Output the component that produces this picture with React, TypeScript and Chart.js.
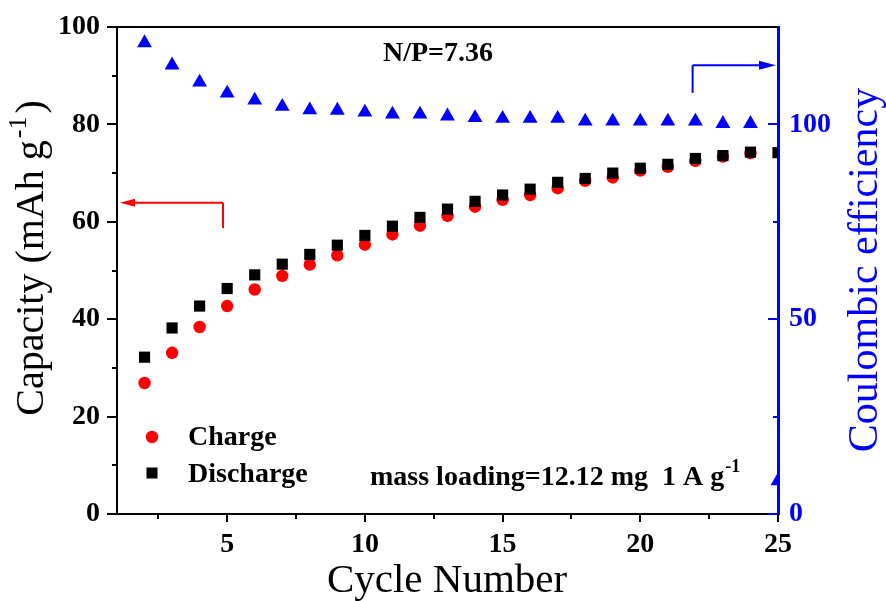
import React, { useEffect, useRef } from "react";
import { Chart, registerables } from "chart.js";

Chart.register(...registerables);

// ---- data ----
const cycles = [2, 3, 4, 5, 6, 7, 8, 9, 10, 11, 12, 13, 14, 15, 16, 17, 18, 19, 20, 21, 22, 23, 24, 25];
const chargeCapacity = [26.9, 33.1, 38.4, 42.7, 46.1, 48.9, 51.2, 53.1, 55.3, 57.4, 59.2, 61.2, 63.1, 64.5, 65.5, 66.9, 68.4, 69.1, 70.5, 71.3, 72.5, 73.4, 74.1, null];
const dischargeCapacity = [32.2, 38.2, 42.7, 46.3, 49.1, 51.3, 53.3, 55.2, 57.2, 59.1, 60.9, 62.6, 64.2, 65.5, 66.7, 68.1, 68.9, 70.0, 71.0, 71.8, 73.0, 73.6, 74.3, 74.2];
const coulombicEfficiency = [120.9, 115.2, 110.8, 108.0, 106.2, 104.6, 103.7, 103.6, 103.1, 102.6, 102.6, 102.1, 101.7, 101.5, 101.5, 101.5, 100.8, 100.8, 100.8, 100.8, 100.8, 100.2, 100.2, 8.5];

const xTicks = [5, 10, 15, 20, 25];
const xMinorTicks = [2.5, 7.5, 12.5, 17.5, 22.5];
const yTicks = [0, 20, 40, 60, 80, 100];
const yMinorTicks = [10, 30, 50, 70, 90];
const y1Ticks = [0, 50, 100];
const y1MinorTicks = [25, 75];

const xTitle = "Cycle Number";
const yTitleMain = "Capacity (mAh g";
const yTitleSup = "-1";
const y1Title = "Coulombic efficiency";
const npText = "N/P=7.36";
const massText = "mass loading=12.12 mg  1 A g";
const massSup = "-1";

const SERIF = '"Liberation Serif", "Times New Roman", serif';
const BLUE = "#0000ff";
const RED = "#ff0000";

const decor = {
  id: "decor",
  afterDraw(chart: any) {
    const { ctx, chartArea: a, scales } = chart;
    const sx = scales.x, sy = scales.y, sy1 = scales.y1;
    ctx.save();

    // top frame line
    ctx.strokeStyle = "#000";
    ctx.lineWidth = 2;
    ctx.beginPath();
    ctx.moveTo(a.left - 1, a.top);
    ctx.lineTo(a.right, a.top);
    ctx.stroke();

    const seg = (x1: number, y1: number, x2: number, y2: number, color: string, w: number) => {
      ctx.strokeStyle = color;
      ctx.lineWidth = w;
      ctx.beginPath();
      ctx.moveTo(x1, y1);
      ctx.lineTo(x2, y2);
      ctx.stroke();
    };

    // x ticks (outward)
    xTicks.forEach((v) => { const p = Math.round(sx.getPixelForValue(v)); seg(p, a.bottom, p, a.bottom + 8, "#000", 2); });
    xMinorTicks.forEach((v) => { const p = Math.round(sx.getPixelForValue(v)); seg(p, a.bottom, p, a.bottom + 5, "#000", 2); });
    // left y ticks (outward)
    yTicks.forEach((v) => { const p = Math.round(sy.getPixelForValue(v)); seg(a.left, p, a.left - 10, p, "#000", 2); });
    yMinorTicks.forEach((v) => { const p = Math.round(sy.getPixelForValue(v)); seg(a.left, p, a.left - 5, p, "#000", 2); });
    // right y ticks (inward)
    y1Ticks.forEach((v) => { const p = Math.round(sy1.getPixelForValue(v)); seg(a.right, p, a.right - 10, p, BLUE, 2); });
    y1MinorTicks.forEach((v) => { const p = Math.round(sy1.getPixelForValue(v)); seg(a.right, p, a.right - 5, p, BLUE, 2); });

    // red arrow -> left axis
    const rx = sx.getPixelForValue(4.85);
    const ry = sy.getPixelForValue(63.9);
    const ryEnd = sy.getPixelForValue(58.7);
    seg(rx, ryEnd, rx, ry, RED, 2);
    seg(rx, ry, a.left + 14, ry, RED, 2);
    ctx.fillStyle = RED;
    ctx.beginPath();
    ctx.moveTo(a.left + 3, ry);
    ctx.lineTo(a.left + 18, ry - 4);
    ctx.lineTo(a.left + 18, ry + 4);
    ctx.closePath();
    ctx.fill();

    // blue arrow -> right axis
    const bx = sx.getPixelForValue(21.9);
    const by = sy1.getPixelForValue(115.2);
    const byEnd = sy1.getPixelForValue(108.1);
    seg(bx, byEnd, bx, by, BLUE, 2);
    seg(bx, by, a.right - 14, by, BLUE, 2);
    ctx.fillStyle = BLUE;
    ctx.beginPath();
    ctx.moveTo(a.right - 2, by);
    ctx.lineTo(a.right - 19, by - 4.5);
    ctx.lineTo(a.right - 19, by + 4.5);
    ctx.closePath();
    ctx.fill();

    // legend
    const ds = chart.data.datasets;
    ctx.fillStyle = RED;
    ctx.beginPath();
    ctx.arc(152, 437, 6.2, 0, Math.PI * 2);
    ctx.fill();
    ctx.fillStyle = "#000";
    ctx.fillRect(146.5, 467.5, 11, 11);
    ctx.font = `bold 28px ${SERIF}`;
    ctx.textAlign = "left";
    ctx.textBaseline = "alphabetic";
    ctx.fillText(ds[1].label, 188, 445);
    ctx.fillText(ds[0].label, 188, 482);

    // N/P text
    ctx.fillText(npText, 383, 61);

    // mass loading text
    ctx.fillText(massText, 370, 485);
    const mw = ctx.measureText(massText).width;
    ctx.font = `bold 18px ${SERIF}`;
    ctx.fillText(massSup, 370 + mw + 1, 472);

    // x title
    ctx.font = `41px ${SERIF}`;
    ctx.textAlign = "center";
    ctx.fillText(xTitle, 447, 592);

    // left y title (rotated, with superscript)
    ctx.save();
    ctx.font = `40px ${SERIF}`;
    const w1 = ctx.measureText(yTitleMain).width;
    ctx.font = `26px ${SERIF}`;
    const w2 = ctx.measureText(yTitleSup).width;
    ctx.font = `40px ${SERIF}`;
    const w3 = ctx.measureText(")").width;
    const total = w1 + 2 + w2 + 3 + w3;
    ctx.translate(43, 258 + total / 2);
    ctx.rotate(-Math.PI / 2);
    ctx.textAlign = "left";
    ctx.fillStyle = "#000";
    ctx.fillText(yTitleMain, 0, 0);
    ctx.font = `26px ${SERIF}`;
    ctx.fillText(yTitleSup, w1 + 2, -17);
    ctx.font = `40px ${SERIF}`;
    ctx.fillText(")", w1 + 2 + w2 + 3, 0);
    ctx.restore();

    // right y title
    ctx.save();
    ctx.translate(877, 270);
    ctx.rotate(-Math.PI / 2);
    ctx.font = `42px ${SERIF}`;
    ctx.textAlign = "center";
    ctx.fillStyle = BLUE;
    ctx.fillText(y1Title, 0, 0);
    ctx.restore();

    ctx.restore();
  },
};

export default function App() {
  const ref = useRef<HTMLCanvasElement>(null);

  useEffect(() => {
    const tickFont = { family: SERIF, size: 28, weight: "bold" as const };
    const chart = new Chart(ref.current as HTMLCanvasElement, {
      type: "scatter",
      data: {
        datasets: [
          {
            label: "Discharge",
            data: cycles.map((c, i) => ({ x: c, y: dischargeCapacity[i] })),
            yAxisID: "y",
            pointStyle: "rect",
            pointRadius: 7.9,
            backgroundColor: "#000",
            borderWidth: 0,
            order: 1,
            clip: 0,
          },
          {
            label: "Charge",
            data: cycles.map((c, i) => ({ x: c, y: chargeCapacity[i] })),
            yAxisID: "y",
            pointStyle: "circle",
            pointRadius: 6.2,
            backgroundColor: RED,
            borderWidth: 0,
            order: 2,
            clip: 0,
          },
          {
            label: "Coulombic efficiency",
            data: cycles.map((c, i) => ({ x: c, y: coulombicEfficiency[i] })),
            yAxisID: "y1",
            pointStyle: "triangle",
            pointRadius: 8.6,
            backgroundColor: BLUE,
            borderWidth: 0,
            order: 3,
            clip: 0,
          },
        ] as any,
      },
      options: {
        responsive: false,
        animation: false,
        devicePixelRatio: 1,
        events: [],
        layout: { padding: { top: 27, left: 0, right: 0, bottom: 0 } },
        plugins: { legend: { display: false }, tooltip: { enabled: false } },
        scales: {
          x: {
            type: "linear",
            position: "bottom",
            min: 1,
            max: 25,
            afterBuildTicks: (s: any) => { s.ticks = xTicks.map((v) => ({ value: v })); },
            afterFit: (s: any) => { s.height = 87; s.paddingLeft = 0; s.paddingRight = 0; },
            grid: { display: false, drawTicks: false },
            border: { display: true, color: "#000", width: 2 },
            ticks: { autoSkip: false, maxRotation: 0, padding: 14, color: "#000", font: tickFont },
          },
          y: {
            type: "linear",
            position: "left",
            min: 0,
            max: 100,
            afterBuildTicks: (s: any) => { s.ticks = yTicks.map((v) => ({ value: v })); },
            afterFit: (s: any) => { s.width = 117; s.paddingTop = 0; s.paddingBottom = 0; },
            grid: { display: false, drawTicks: false },
            border: { display: true, color: "#000", width: 2 },
            ticks: { autoSkip: false, padding: 17, color: "#000", font: tickFont },
          },
          y1: {
            type: "linear",
            position: "right",
            min: 0,
            max: 125,
            afterBuildTicks: (s: any) => { s.ticks = y1Ticks.map((v) => ({ value: v })); },
            afterFit: (s: any) => { s.width = 108; s.paddingTop = 0; s.paddingBottom = 0; },
            grid: { display: false, drawTicks: false },
            border: { display: true, color: BLUE, width: 3 },
            ticks: { autoSkip: false, padding: 11, color: BLUE, font: tickFont },
          },
        },
      } as any,
      plugins: [decor],
    });
    return () => chart.destroy();
  }, []);

  return (
    <div style={{ position: "fixed", left: 0, top: 0, width: 886, height: 601, background: "#fff" }}>
      <canvas ref={ref} width={886} height={601} style={{ display: "block" }} />
    </div>
  );
}
